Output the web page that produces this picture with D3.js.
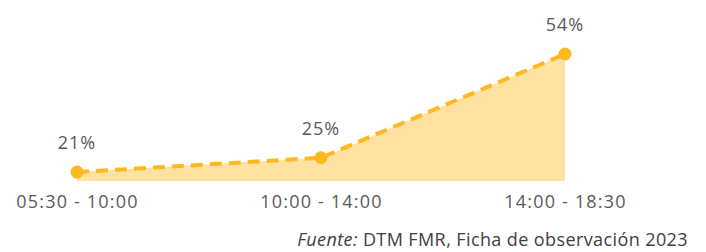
<!DOCTYPE html>
<html>
<head>
<meta charset="utf-8">
<script src="https://cdn.jsdelivr.net/npm/d3@7"></script>
<style>
  body { margin: 0; background: #fff; }
  text { font-family: "Open Sans", "Noto Sans", sans-serif; }
</style>
</head>
<body>
<script>
// Données
const categories = ["05:30 - 10:00", "10:00 - 14:00", "14:00 - 18:30"];
const values = [21, 25, 54];
const valueLabels = ["21%", "25%", "54%"];

const width = 706, height = 252;

const svg = d3.select("body").append("svg")
    .attr("width", width)
    .attr("height", height);

const x = d3.scalePoint()
    .domain(categories)
    .range([77, 565]);

const y = d3.scaleLinear()
    .domain([18.5, 54])
    .range([181, 54]);

const data = categories.map((c, i) => ({ cat: c, v: values[i], label: valueLabels[i] }));

// Aire
const area = d3.area()
    .x(d => x(d.cat))
    .y0(y(18.5))
    .y1(d => y(d.v));

svg.append("path")
    .datum(data)
    .attr("d", area)
    .attr("fill", "#FFE1A1");

// Ligne pointillée
const line = d3.line()
    .x(d => x(d.cat))
    .y(d => y(d.v));

svg.append("path")
    .datum(data)
    .attr("d", line)
    .attr("fill", "none")
    .attr("stroke", "#FFB81E")
    .attr("stroke-width", 4)
    .attr("stroke-dasharray", "12,7");

// Points
svg.append("g")
    .selectAll("circle")
    .data(data)
    .enter()
    .append("circle")
    .attr("cx", d => x(d.cat))
    .attr("cy", d => y(d.v))
    .attr("r", 6.5)
    .attr("fill", "#FFB81E");

// Étiquettes des valeurs
svg.append("g")
    .selectAll("text")
    .data(data)
    .enter()
    .append("text")
    .attr("x", d => x(d.cat))
    .attr("y", d => y(d.v) - 23)
    .attr("text-anchor", "middle")
    .attr("font-size", 18)
    .attr("letter-spacing", 1)
    .attr("fill", "#595959")
    .text(d => d.label);

// Axe des catégories
const xAxis = svg.append("g")
    .attr("transform", "translate(0,181)")
    .call(d3.axisBottom(x).tickSize(0).tickPadding(14));
xAxis.select(".domain").remove();
xAxis.selectAll("text")
    .attr("font-size", 18)
    .attr("letter-spacing", 1.2)
    .attr("fill", "#595959")
    .style("font-family", "\"Open Sans\", sans-serif");

// Source
const src = svg.append("text")
    .attr("x", 688)
    .attr("y", 246)
    .attr("text-anchor", "end")
    .attr("font-size", 18)
    .attr("letter-spacing", 0.4)
    .attr("fill", "#404040");
src.append("tspan").attr("font-style", "italic").text("Fuente:");
src.append("tspan").text(" DTM FMR, Ficha de observación 2023");
</script>
</body>
</html>
